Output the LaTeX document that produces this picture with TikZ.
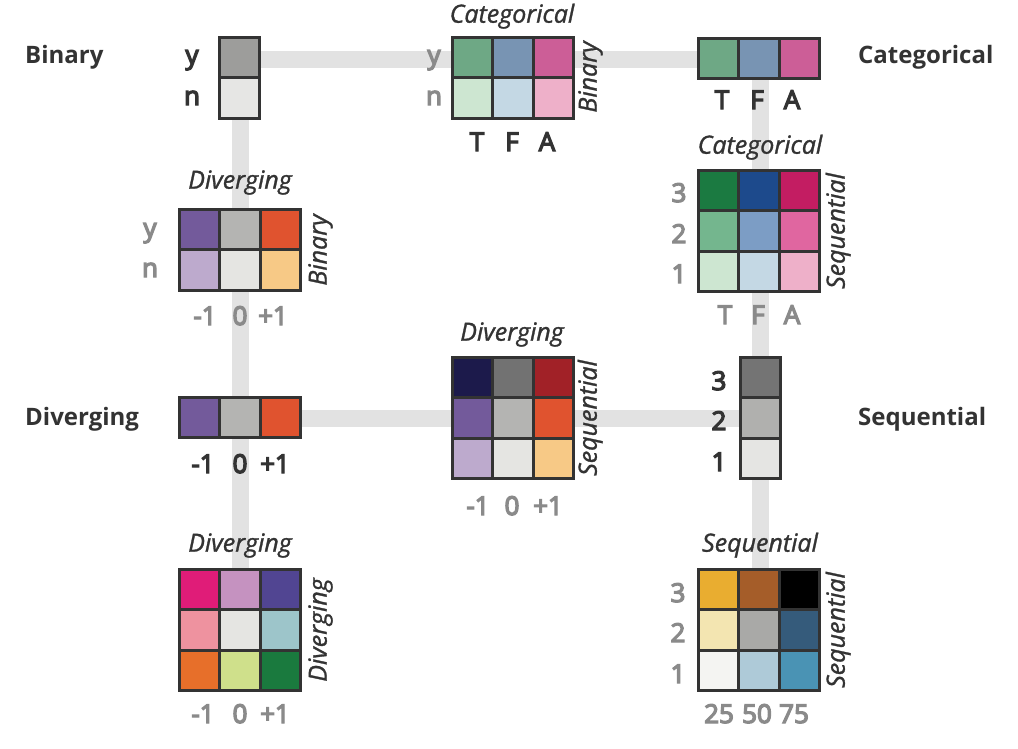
\documentclass[tikz,border=0pt]{standalone}
\usepackage{fontspec}
\setmainfont{Open Sans}
\newfontfamily\labfont{Open Sans}[BoldFont={Open Sans}, BoldFeatures={FakeBold=5}, ItalicFont={Open Sans Italic}, BoldItalicFont={Open Sans Italic}, BoldItalicFeatures={FakeBold=1.2}]
\usetikzlibrary{calc}
\pgfdeclarelayer{bg}
\pgfsetlayers{bg,main}
\definecolor{bordc}{HTML}{333333}
\definecolor{barc}{HTML}{E2E2E2}
\definecolor{darkc}{HTML}{333333}
\definecolor{greyc}{HTML}{8A8A8A}
% binary / sequential greys
\definecolor{gY}{HTML}{9D9D9B}
\definecolor{gN}{HTML}{E6E6E4}
\definecolor{sq3}{HTML}{747474}
\definecolor{sq2}{HTML}{B0B0AE}
\definecolor{sq1}{HTML}{E5E5E3}
% categorical
\definecolor{cG}{HTML}{6EA885}
\definecolor{cB}{HTML}{7894B3}
\definecolor{cP}{HTML}{CC5E97}
\definecolor{cGl}{HTML}{CDE6D1}
\definecolor{cBl}{HTML}{C4D8E4}
\definecolor{cPl}{HTML}{EEB0C9}
\definecolor{cGd}{HTML}{1B7A41}
\definecolor{cBd}{HTML}{1D4A8C}
\definecolor{cPd}{HTML}{C31D62}
\definecolor{cGm}{HTML}{74B68E}
\definecolor{cBm}{HTML}{7C9DC5}
\definecolor{cPm}{HTML}{E066A0}
% diverging
\definecolor{dP}{HTML}{735A9B}
\definecolor{dG}{HTML}{B4B4B2}
\definecolor{dO}{HTML}{E0532F}
\definecolor{dPl}{HTML}{BDAACD}
\definecolor{dGl}{HTML}{E5E5E2}
\definecolor{dOl}{HTML}{F7C986}
\definecolor{dPd}{HTML}{1C1A4B}
\definecolor{dGd}{HTML}{727272}
\definecolor{dOd}{HTML}{A12127}
% diverging x diverging
\definecolor{xa}{HTML}{E01C78}
\definecolor{xb}{HTML}{C592C0}
\definecolor{xc}{HTML}{514592}
\definecolor{xd}{HTML}{EE929F}
\definecolor{xe}{HTML}{E5E5E2}
\definecolor{xf}{HTML}{9DC5CA}
\definecolor{xg}{HTML}{E76F2A}
\definecolor{xh}{HTML}{CFE08B}
\definecolor{xi}{HTML}{1A7A3E}
% sequential x sequential
\definecolor{sa}{HTML}{E9AD30}
\definecolor{sb}{HTML}{A55D29}
\definecolor{sc}{HTML}{000000}
\definecolor{sd}{HTML}{F3E5B1}
\definecolor{se}{HTML}{A9A9A7}
\definecolor{sf}{HTML}{355B7B}
\definecolor{sg}{HTML}{F4F4F2}
\definecolor{sh}{HTML}{AECAD8}
\definecolor{si}{HTML}{4A93B4}
\tikzset{
  cell/.style={draw=bordc, line width=3pt, minimum width=40.5pt, minimum height=40.5pt, inner sep=0pt, outer sep=0pt},
  bar/.style={draw=barc, line width=17pt},
  title/.style={font=\fontsize{24}{24}\selectfont\bfseries, text=darkc, anchor=mid west, inner sep=0pt},
  axis/.style={font=\labfont\fontsize{25}{25}\selectfont\bfseries\itshape, text=darkc, anchor=mid, inner sep=0pt},
  raxis/.style={axis, rotate=90},
  dlab/.style={font=\labfont\fontsize{26}{26}\selectfont\bfseries, text=darkc, anchor=base, inner sep=0pt},
  glab/.style={font=\labfont\fontsize{26}{26}\selectfont\bfseries, text=greyc, anchor=base, inner sep=0pt},
}
\newcommand{\gridbox}[4]{%
  \foreach \rowlist [count=\j] in {#4} {
    \foreach \cc [count=\i] in \rowlist {
      \node[cell, fill=\cc] (#1-\i-\j) at ({#2+(\i-0.5)*40.5},{#3+(\j-0.5)*40.5}) {};
    }
  }
}
\begin{document}
\begin{tikzpicture}[x=1pt,y=-1pt]
\useasboundingbox (0,0) rectangle (1018,748);
% grids
\gridbox{bin}{219}{37}{{gY},{gN}}
\gridbox{bincat}{452}{37}{{cG,cB,cP},{cGl,cBl,cPl}}
\gridbox{cat}{698}{38}{{cG,cB,cP}}
\gridbox{catseq}{698}{170}{{cGd,cBd,cPd},{cGm,cBm,cPm},{cGl,cBl,cPl}}
\gridbox{divbin}{179}{209}{{dP,dG,dO},{dPl,dGl,dOl}}
\gridbox{div}{179}{397}{{dP,dG,dO}}
\gridbox{divseq}{452}{357}{{dPd,dGd,dOd},{dP,dG,dO},{dPl,dGl,dOl}}
\gridbox{seq}{740}{357}{{sq3},{sq2},{sq1}}
\gridbox{divdiv}{179}{569}{{xa,xb,xc},{xd,xe,xf},{xg,xh,xi}}
\gridbox{seqseq}{698}{569}{{sa,sb,sc},{sd,se,sf},{sg,sh,si}}
% connector bars
\coordinate (pTL) at (240,59);
\coordinate (pTR) at (760,59);
\coordinate (pML) at (240,418);
\coordinate (pMR) at (760,418);
\coordinate (pBL) at (240,630);
\coordinate (pBR) at (760,630);
\begin{pgfonlayer}{bg}
\fill[white] (0,0) rectangle (1018,748);
\draw[bar] (pTL) -- (pTR);
\draw[bar] (pTL) -- (pBL);
\draw[bar] (pTR) -- (pBR);
\draw[bar] (pML) -- (pMR);
\end{pgfonlayer}
% titles
\node[title] (tBin) at (25,61) {Binary};
\node[title] (tCat) at (858,61) {Categorical};
\node[title] (tDiv) at (25,423) {Diverging};
\node[title] (tSeq) at (858,423) {Sequential};
% binary
\node[dlab] (bY) at (192,64) {y};
\node[dlab] (bN) at (192,105) {n};
% binary x categorical
\node[axis] (bcT) at (512,20) {Categorical};
\node[raxis] (bcR) at (594,77) {Binary};
\node[glab] (bcY) at (434,64) {y};
\node[glab] (bcN) at (434,105) {n};
\node[dlab] (bc1) at (477,151) {T};
\node[dlab] (bc2) at (512,151) {F};
\node[dlab] (bc3) at (547,151) {A};
% categorical
\node[dlab] (c1) at (722,109) {T};
\node[dlab] (c2) at (757,109) {F};
\node[dlab] (c3) at (792,109) {A};
% categorical x sequential
\node[axis] (csT) at (760,151) {Categorical};
\node[raxis] (csR) at (842,231) {Sequential};
\node[glab] (cs3) at (679,202) {3};
\node[glab] (cs2) at (679,243) {2};
\node[glab] (cs1) at (679,283) {1};
\node[glab] (csa) at (725,324) {T};
\node[glab] (csb) at (758,324) {F};
\node[glab] (csc) at (792,324) {A};
% diverging x binary
\node[axis] (dbT) at (240,186) {Diverging};
\node[raxis] (dbR) at (324,250) {Binary};
\node[glab] (dbY) at (150,237) {y};
\node[glab] (dbN) at (150,277) {n};
\node[glab] (db1) at (205,325) {-1};
\node[glab] (db2) at (240,325) {0};
\node[glab] (db3) at (273,325) {+1};
% diverging
\node[dlab] (d1) at (203,473) {-1};
\node[dlab] (d2) at (240,473) {0};
\node[dlab] (d3) at (275,473) {+1};
% diverging x sequential
\node[axis] (dsT) at (512,338) {Diverging};
\node[raxis] (dsR) at (594,418) {Sequential};
\node[glab] (ds1) at (478,515) {-1};
\node[glab] (ds2) at (512,515) {0};
\node[glab] (ds3) at (548,515) {+1};
% sequential
\node[dlab] (s3) at (719,390) {3};
\node[dlab] (s2) at (719,430) {2};
\node[dlab] (s1) at (719,471) {1};
% diverging x diverging
\node[axis] (ddT) at (240,549) {Diverging};
\node[raxis] (ddR) at (324,630) {Diverging};
\node[glab] (dd1) at (203,723) {-1};
\node[glab] (dd2) at (240,723) {0};
\node[glab] (dd3) at (275,723) {+1};
% sequential x sequential
\node[axis] (ssT) at (760,549) {Sequential};
\node[raxis] (ssR) at (842,630) {Sequential};
\node[glab] (ss3) at (678,602) {3};
\node[glab] (ss2) at (678,642) {2};
\node[glab] (ss1) at (678,683) {1};
\node[glab] (ssa) at (719,723) {25};
\node[glab] (ssb) at (757,723) {50};
\node[glab] (ssc) at (794,723) {75};
\end{tikzpicture}
\end{document}
